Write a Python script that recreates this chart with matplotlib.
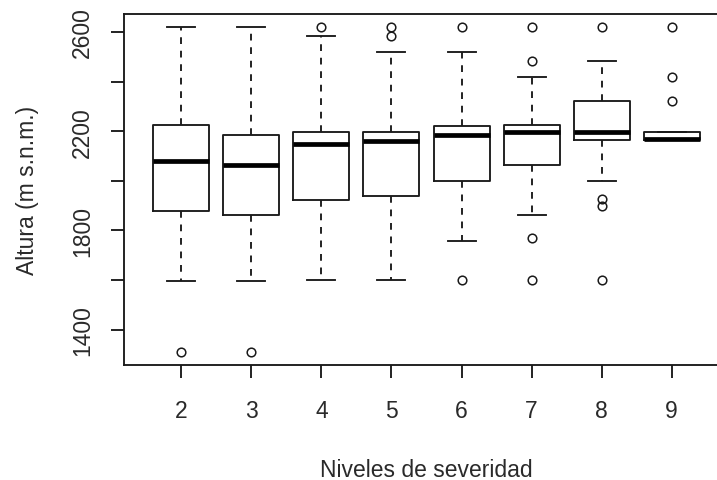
import matplotlib
matplotlib.use("Agg")
import matplotlib.pyplot as plt

plt.rcParams['font.family'] = ['Liberation Sans', 'DejaVu Sans']

categories = ["2", "3", "4", "5", "6", "7", "8", "9"]
whislo = [1595, 1595, 1600, 1600, 1758, 1861, 2001, 2163]
q1 = [1880, 1861, 1923, 1939, 2001, 2062, 2165, 2163]
med = [2080, 2062, 2147, 2160, 2184, 2196, 2196, 2168]
q3 = [2226, 2184, 2195, 2195, 2220, 2226, 2323, 2196]
whishi = [2620, 2620, 2584, 2519, 2519, 2419, 2481, 2196]
fliers = [
    [1310],
    [1310],
    [2620],
    [2620, 2585],
    [2620, 1600],
    [2620, 2481, 1770, 1600],
    [2620, 1927, 1897, 1600],
    [2620, 2419, 2323],
]
yticks = [1400, 1600, 1800, 2000, 2200, 2400, 2600]
ytick_labels = ["1400", "", "1800", "", "2200", "", "2600"]

stats = []
for i, c in enumerate(categories):
    stats.append(dict(label=c, whislo=whislo[i], q1=q1[i], med=med[i],
                      q3=q3[i], whishi=whishi[i], fliers=fliers[i]))

fig = plt.figure(figsize=(7.17, 4.81), dpi=100)
ax = fig.add_axes([124/717, (481-366)/481, (729-124)/717, (366-15)/481])

ink = '#1a1a1a'
lw = 1.35
ax.bxp(stats, positions=range(1, len(categories)+1), widths=0.8,
       capwidths=0.4, showfliers=True, patch_artist=False,
       boxprops=dict(color=ink, linewidth=lw),
       medianprops=dict(color='black', linewidth=3.4, solid_capstyle='butt'),
       whiskerprops=dict(color=ink, linewidth=lw, linestyle=(0, (3.6, 3.6))),
       capprops=dict(color=ink, linewidth=lw),
       flierprops=dict(marker='o', markerfacecolor='none', markeredgecolor=ink,
                       markersize=6.2, markeredgewidth=1.1))

ax.set_xlim(0.18, 8.82)
ax.set_ylim(1257.6, 2672.4)
ax.set_xticks(range(1, len(categories)+1))
ax.set_xticklabels(categories)
ax.set_yticks(yticks)
ax.set_yticklabels(ytick_labels, rotation=90, va='center')

for s in ax.spines.values():
    s.set_color(ink)
    s.set_linewidth(lw)

fs = 16.5
tc = '#2a2a2a'
ax.tick_params(axis='both', direction='out', length=9.5, width=lw, color=ink,
               labelsize=fs, labelcolor=tc)
ax.tick_params(axis='x', pad=15)
ax.tick_params(axis='y', pad=12)

ax.set_xlabel("Niveles de severidad", fontsize=fs, color=tc, labelpad=26)
ax.set_ylabel("Altura (m s.n.m.)", fontsize=fs, color=tc, labelpad=23)

fig.savefig("out.png", dpi=100)
